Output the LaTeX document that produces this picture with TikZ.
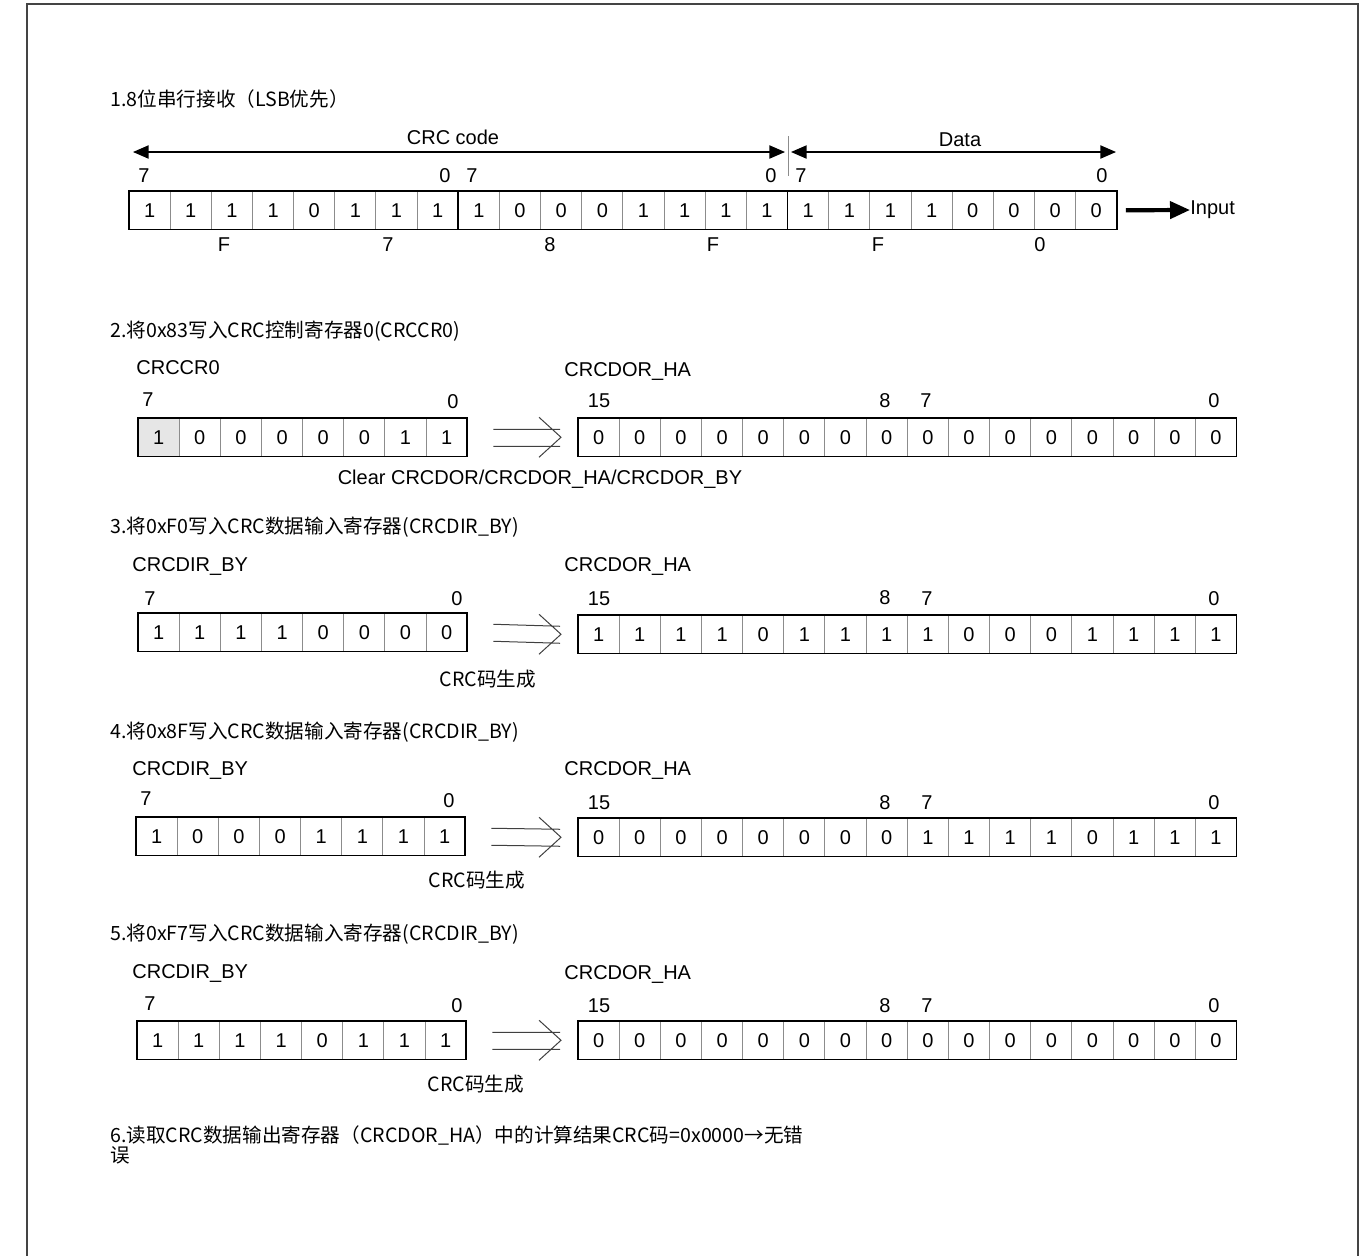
\documentclass[tikz,border=0pt]{standalone}
\usepackage{fontspec}
\setmainfont{Liberation Sans}
\newfontfamily\cjk{Noto Sans CJK SC}
\usepackage{xcolor}
\usepackage{tikz}
\usetikzlibrary{arrows.meta, calc, backgrounds}
\definecolor{framegray}{RGB}{68,68,68}
\definecolor{cellgray}{RGB}{140,140,140}
\definecolor{shadebg}{RGB}{230,230,230}
% one register: name, left x, top y, number of cells, bits
\newcommand{\bitrow}[5]{%
  \foreach \b [count=\i] in {#5}
    \node[cell] (#1-\i) at ({#2+(\i-1)*41.16},#3) {\b};
  \draw[regframe] (#1-1.north west) rectangle (#1-#4.south east);
}
% open double arrow between two registers
\newcommand{\regarrow}[2]{%
  \draw[impl] ($(#1.east)+(26,-8)$) -- ($(#2.west)+(-18,-8)$)
              ($(#1.east)+(26,9)$) -- ($(#2.west)+(-18,9)$)
              ($(#2.west)+(-39,-20)$) -- ($(#2.west)+(-17,0)$) -- ($(#2.west)+(-39,20)$);
}

\begin{document}
\begin{tikzpicture}[
  x=0.5pt, y=-0.5pt,
  every node/.style={font=\fontsize{10}{12}\selectfont},
  cell/.style={draw=cellgray, line width=0.5pt, minimum width=20.58pt,
               minimum height=19.25pt, inner sep=0pt, outer sep=0pt,
               anchor=north west},
  regframe/.style={draw=black, line width=0.9pt},
  ttl/.style={anchor=west, inner sep=0pt, font=\cjk\fontsize{9.8}{10.3}\selectfont},
  lbl/.style={anchor=base west, inner sep=0pt},
  idx/.style={inner sep=0pt},
  dimarr/.style={{Triangle[length=7.8pt,width=6.6pt]}-{Triangle[length=7.8pt,width=6.6pt]},
                 line width=0.65pt},
  inarr/.style={-{Triangle[length=10pt,width=8.5pt]}, line width=2.1pt},
  impl/.style={draw=black!75, line width=0.5pt}
]
\useasboundingbox (0,0) rectangle (1370,1255);
\draw[framegray, line width=1pt] (27,1256) -- (27,4) -- (1358,4) -- (1358,1256);

% 1. serial reception
\node[ttl] (t1) at (110,99) {1.8位串行接收（LSB优先）};
\bitrow{code}{129}{191}{24}{1,1,1,1,0,1,1,1,1,0,0,0,1,1,1,1,1,1,1,1,0,0,0,0}
\draw[regframe] (code-8.north east) -- (code-8.south east);
\draw[regframe] (code-16.north east) -- (code-16.south east);
\node[idx] (c7a) at (144,176) {7};
\node[idx] (c0a) at (445,176) {0};
\node[idx] (c7b) at (472,176) {7};
\node[idx] (c0b) at (771,176) {0};
\node[idx] (c7c) at (801,176) {7};
\node[idx] (c0c) at (1102,176) {0};
\node[idx] (nF1) at (224,245) {F};
\node[idx] (n71) at (388,245) {7};
\node[idx] (n81) at (550,245) {8};
\node[idx] (nF2) at (713,245) {F};
\node[idx] (nF3) at (878,245) {F};
\node[idx] (n01) at (1040,245) {0};
\coordinate (codeL) at (133,152);
\coordinate (codeR) at (785,152);
\coordinate (dataL) at (791,152);
\coordinate (dataR) at (1116,152);
\coordinate (tickT) at (788,136);
\coordinate (tickB) at (788,176);
\draw[dimarr] (codeL) -- (codeR);
\draw[dimarr] (dataL) -- (dataR);
\draw[cellgray, line width=0.5pt] (tickT) -- (tickB);
\node[idx] (crclbl) at (453,137) {CRC code};
\node[idx] (datalbl) at (960,140) {Data};
\node[anchor=west, inner sep=0pt] (inp) at (1190,210) {Input};
\draw[inarr] ($(code-24.east)+(9,0)$) -- (inp.west);

% 2. write 0x83 to CRCCR0
\node[ttl] (t2) at (110,331) {2.将0x83写入CRC控制寄存器0(CRCCR0)};
\node[lbl] (cr0lbl) at (136,374) {CRCCR0};
\node[lbl] (ha2lbl) at (564,376) {CRCDOR\_HA};
\bitrow{cr0}{138}{418}{8}{1,0,0,0,0,0,1,1}
\begin{scope}[on background layer]
  \fill[shadebg] (cr0-1.north west) rectangle (cr0-1.south east);
\end{scope}
\bitrow{hb}{578}{418}{16}{0,0,0,0,0,0,0,0,0,0,0,0,0,0,0,0}
\regarrow{cr0-8}{hb-1}
\node[idx] (i27) at (148,400) {7};
\node[idx] (i20) at (453,402) {0};
\node[idx] (i215) at (599,401) {15};
\node[idx] (i28) at (885,401) {8};
\node[idx] (i27b) at (926,401) {7};
\node[idx] (i20b) at (1214,401) {0};
\node[idx] (clr) at (540,479) {Clear CRCDOR/CRCDOR\_HA/CRCDOR\_BY};

% 3. write 0xF0 to CRCDIR_BY
\node[ttl] (t3) at (110,527) {3.将0xF0写入CRC数据输入寄存器(CRCDIR\_BY)};
\node[lbl] (dr3lbl) at (132,571) {CRCDIR\_BY};
\node[lbl] (ha3lbl) at (564,571) {CRCDOR\_HA};
\bitrow{da}{138}{613}{8}{1,1,1,1,0,0,0,0}
\bitrow{hc}{578}{615}{16}{1,1,1,1,0,1,1,1,1,0,0,0,1,1,1,1}
\regarrow{da-8}{hc-1}
\node[idx] (i37) at (150,599) {7};
\node[idx] (i30) at (457,599) {0};
\node[idx] (i315) at (599,599) {15};
\node[idx] (i38) at (885,598) {8};
\node[idx] (i37b) at (927,599) {7};
\node[idx] (i30b) at (1214,599) {0};
\node[ttl, anchor=center] (gen3) at (488,679) {CRC码生成};

% 4. write 0x8F to CRCDIR_BY
\node[ttl] (t4) at (110,732) {4.将0x8F写入CRC数据输入寄存器(CRCDIR\_BY)};
\node[lbl] (dr4lbl) at (132,775) {CRCDIR\_BY};
\node[lbl] (ha4lbl) at (564,775) {CRCDOR\_HA};
\bitrow{db}{136}{817}{8}{1,0,0,0,1,1,1,1}
\bitrow{hd}{578}{818}{16}{0,0,0,0,0,0,0,0,1,1,1,1,0,1,1,1}
\regarrow{db-8}{hd-1}
\node[idx] (i47) at (146,799) {7};
\node[idx] (i40) at (449,801) {0};
\node[idx] (i415) at (599,803) {15};
\node[idx] (i48) at (885,803) {8};
\node[idx] (i47b) at (927,803) {7};
\node[idx] (i40b) at (1214,803) {0};
\node[ttl, anchor=center] (gen4) at (477,880) {CRC码生成};

% 5. write 0xF7 to CRCDIR_BY
\node[ttl] (t5) at (110,934) {5.将0xF7写入CRC数据输入寄存器(CRCDIR\_BY)};
\node[lbl] (dr5lbl) at (132,978) {CRCDIR\_BY};
\node[lbl] (ha5lbl) at (564,979) {CRCDOR\_HA};
\bitrow{dc}{137}{1021}{8}{1,1,1,1,0,1,1,1}
\bitrow{he}{578}{1021}{16}{0,0,0,0,0,0,0,0,0,0,0,0,0,0,0,0}
\regarrow{dc-8}{he-1}
\node[idx] (i57) at (150,1004) {7};
\node[idx] (i50) at (457,1006) {0};
\node[idx] (i515) at (599,1006) {15};
\node[idx] (i58) at (885,1006) {8};
\node[idx] (i57b) at (927,1006) {7};
\node[idx] (i50b) at (1214,1006) {0};
\node[ttl, anchor=center] (gen5) at (476,1084) {CRC码生成};

% 6. read result
\node[ttl, anchor=north west, align=left] (t6) at (110,1125)
  {6.读取CRC数据输出寄存器（CRCDOR\_HA）中的计算结果CRC码=0x0000→无错\\误};
\end{tikzpicture}
\end{document}
